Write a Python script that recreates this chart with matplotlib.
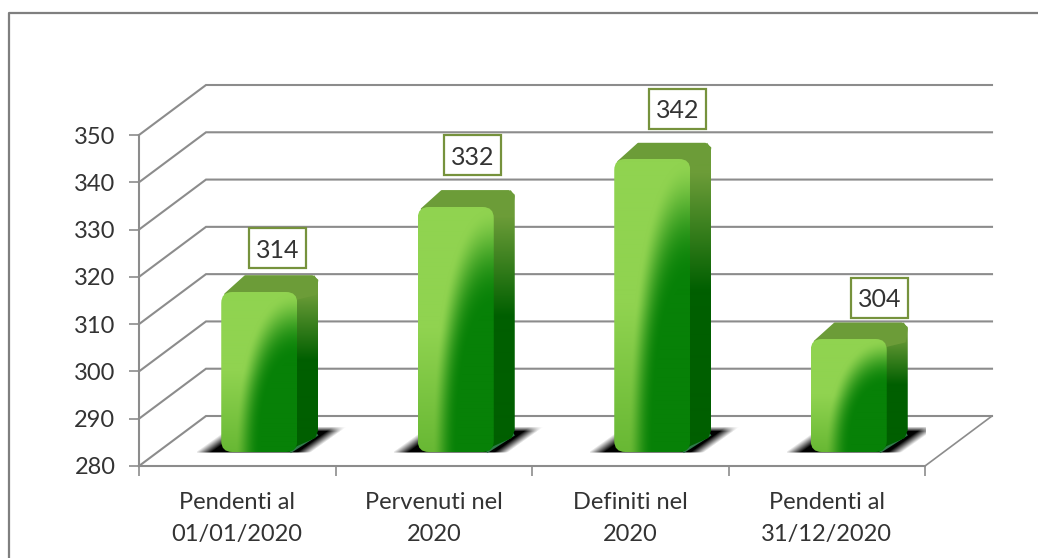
# green 3d-look column chart, drawn by hand on a flat axes

import numpy as np
import matplotlib
matplotlib.use('Agg')
import matplotlib.pyplot as plt
from matplotlib.patches import FancyBboxPatch, Polygon, Rectangle
from matplotlib.transforms import IdentityTransform

# data
categories = ['Pendenti al\n01/01/2020', 'Pervenuti nel\n2020',
              'Definiti nel\n2020', 'Pendenti al\n31/12/2020']
values = [314, 332, 342, 304]
y_ticks = [280, 290, 300, 310, 320, 330, 340, 350]

# layout, in pixels of the 1038x558 picture
W, H = 1038, 558
left, right, top, bottom = 139, 925, 135, 466
depth_x, depth_y = 67, 50     # floor depth
bar_dx, bar_dy = 22, 14       # bar position on the floor
bar_w = 76
side_x, side_y = 21, 16       # bar depth
label_off = [(18, 43), (17, 51), (25, 50), (31, 41)]
box_w, box_h = 57, 40

grey = '#8c8c8c'
ink = '#333333'

plt.rcParams['font.family'] = ['Lato', 'DejaVu Sans']
fig = plt.figure(figsize=(W/100, H/100), dpi=100)
ax = fig.add_axes([left/W, 1-bottom/H, (right-left)/W, (bottom-top)/H])
ax.set_xlim(-0.5, 3.5)
ax.set_ylim(y_ticks[0], y_ticks[-1])
ax.set_autoscale_on(False)
ax.patch.set_visible(False)

ident = IdentityTransform()


def pix(x, y):
    return ax.transData.transform((x, y))


def shade(box, rgba, clip, zorder):
    # paint an rgba array into a pixel box, clipped to a shape
    im = ax.imshow(rgba, extent=box, transform=ident, origin='upper', aspect='auto',
                   interpolation='bilinear', zorder=zorder)
    im.set_clip_path(clip)


def mix(c0, c1, t):
    c0 = np.array(matplotlib.colors.to_rgb(c0))
    c1 = np.array(matplotlib.colors.to_rgb(c1))
    return c0 + (c1-c0)*t[..., None]


def front_shading(w, h):
    # light top left, dark green lower right with a curved edge between them
    yy, xx = np.mgrid[0:h, 0:w]
    u = xx / (w-1.0)
    d = (h-1-yy) / (h-1.0)
    light = mix('#90d350', '#68b834', np.clip(1-d/0.5, 0, 1))
    r = (np.abs(1-u)/0.72)**2.2 + (d/0.88)**2.2
    t = np.clip((1.3-r)/0.9, 0, 1)[..., None]
    t = t*t*(3-2*t)
    img = light*(1-t) + np.array(matplotlib.colors.to_rgb('#078107'))*t
    return np.clip(img, 0, 1)


def side_shading(w, h):
    yy, xx = np.mgrid[0:h, 0:w]
    d = (h-1-yy) / (h-1.0)
    t = np.clip((d-0.52)/0.38, 0, 1)
    return mix('#005f00', '#6c9c38', t)


def shadow(w, h, pts):
    # blurred black parallelogram under a bar
    yy, xx = np.mgrid[0:h, 0:w]
    (x0, x1, x2, x3) = pts
    s = yy / (h-1.0)
    l = x0 + (x1-x0)*(1-s)
    r = x2 + (x3-x2)*(1-s)
    a = np.clip((xx-l)/16.0, 0, 1) * np.clip((r-xx)/14.0, 0, 1)
    a = a * np.clip(yy/5.0, 0, 1) * np.clip((h-1-yy)/2.0, 0, 1)
    rgba = np.zeros((h, w, 4))
    rgba[..., 3] = a
    return rgba


# back wall, left wall and floor
for v in y_ticks:
    x0, y0 = pix(-0.5, v)
    x1, y1 = pix(3.5, v)
    ax.plot([x0, x0+depth_x, x1+depth_x], [y0, y0+depth_y, y0+depth_y], color=grey, lw=1.5,
            transform=ident, clip_on=False, zorder=1, solid_joinstyle='miter')
x0, y0 = pix(3.5, y_ticks[0])
ax.plot([x0, x0+depth_x], [y0, y0+depth_y], color=grey, lw=1.2, transform=ident,
        clip_on=False, zorder=1)

# bars
for i, v in enumerate(values):
    xc, y1 = pix(i, v)
    _, y0 = pix(i, y_ticks[0])
    xl = xc + bar_dx - bar_w/2
    xr = xl + bar_w
    y0 += bar_dy
    y1 += bar_dy
    h = int(y1-y0)

    # shadow
    sh = shadow(150, 28, (-4, 34, 112, 150))
    ax.imshow(sh, extent=(xl-24, xl+126, y0-2, y0+26), transform=ident, aspect='auto',
              zorder=2, interpolation='bilinear')

    # floor edge of the bar
    ax.plot([xr-6, xr+side_x-2], [y0+1, y0+side_y+1], color='#2f7a4a', lw=2.2,
            transform=ident, zorder=2.5)

    # right side and top
    sx = [xr-8, xr, xr+side_x-3, xr+side_x, xr+side_x, xr+side_x-4, xr-8]
    sy = [y0, y0+6, y0+side_y-2, y0+side_y+6, y1+side_y-6, y1+side_y, y1-2]
    side = Polygon(np.column_stack([sx, sy]), closed=True, transform=ident, fc='none', ec='none', zorder=3)
    ax.add_patch(side)
    shade((xr-8, xr+side_x, y0, y1+side_y), side_shading(int(side_x+8), h+side_y), side, 3)
    tx = [xl+4, xl+side_x+3, xr+side_x-6, xr+side_x-1, xr+side_x-3, xr-3]
    ty = [y1-3, y1+side_y-1, y1+side_y-1, y1+side_y-5, y1-3, y1-8]
    ax.add_patch(Polygon(np.column_stack([tx, ty]), closed=True, transform=ident, fc='#6c9c38',
                         ec='#6c9c38', lw=1.5, joinstyle='round', zorder=3.5))

    # front face
    face = FancyBboxPatch((xl+9, y0+9), bar_w-18, h-18, boxstyle='round,pad=9,rounding_size=11',
                          transform=ident, fc='none', ec='none', zorder=4)
    ax.add_patch(face)
    shade((xl, xr, y0, y1), front_shading(bar_w, h), face, 4)

    # value label
    dx, dy = label_off[i]
    cx, cy = xc+bar_dx+dx, y1+dy
    ax.add_patch(Rectangle((cx-box_w/2, cy-box_h/2), box_w, box_h, transform=ident, fc='white',
                           ec='#76923c', lw=1.6, zorder=6, clip_on=False))
    ax.text(cx, cy, str(v), transform=ident, ha='center', va='center_baseline', fontsize=18,
            color=ink, zorder=7)

# axes
for s in ['top', 'right']:
    ax.spines[s].set_visible(False)
for s in ['left', 'bottom']:
    ax.spines[s].set_color(grey)
    ax.spines[s].set_linewidth(1.5)
ax.set_yticks(y_ticks)
ax.set_xticks(np.arange(-0.5, 4, 1))
ax.set_xticklabels([])
ax.tick_params(axis='both', length=7, width=1.2, color=grey, labelsize=17, labelcolor=ink, pad=10)
for i, c in enumerate(categories):
    ax.annotate(c, xy=(i, y_ticks[0]), xytext=(0, -19), textcoords='offset points',
                ha='center', va='top', fontsize=17, color=ink, linespacing=1.6)

# outer frame, open at the bottom and on the right
fig.add_artist(plt.Line2D([8.5/W, 8.5/W, 1], [0, 1-13/H, 1-13/H], color='#7f7f7f', lw=1.6))

fig.savefig('out.png', dpi=100)
